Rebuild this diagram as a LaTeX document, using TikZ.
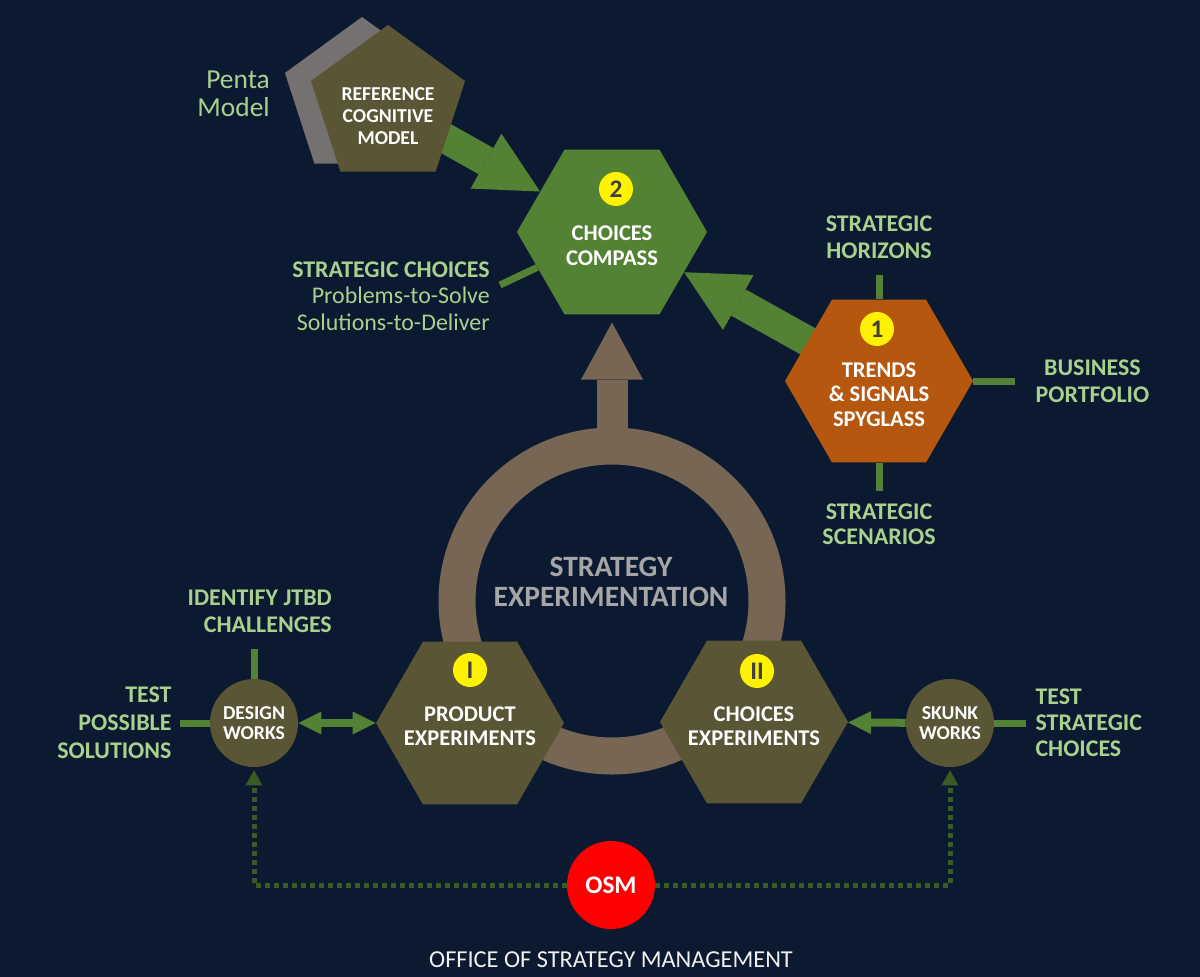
\documentclass[tikz,border=0pt]{standalone}
\usepackage{fontspec}
\setmainfont{Carlito}
\usetikzlibrary{shapes.geometric,arrows.meta,positioning}

\definecolor{bgnavy}{HTML}{0B1A31}
\definecolor{hexgreen}{HTML}{548235}
\definecolor{hexorange}{HTML}{B5570F}
\definecolor{hexolive}{HTML}{5A5535}
\definecolor{pentagray}{HTML}{767171}
\definecolor{ringbrown}{HTML}{786655}
\definecolor{lgreen}{HTML}{A9D18E}
\definecolor{dotgreen}{HTML}{3B5B26}
\definecolor{badgegray}{HTML}{404040}
\definecolor{titlegray}{HTML}{A6A6A6}
\definecolor{osmred}{HTML}{FF0000}

\pgfdeclarelayer{bglayer}
\pgfdeclarelayer{arrowlayer}
\pgfsetlayers{bglayer,arrowlayer,main}

\tikzset{
  hexa/.style={regular polygon, regular polygon sides=6, minimum size=4.7cm, inner sep=0pt},
  penta/.style={regular polygon, regular polygon sides=5, minimum size=4.05cm, inner sep=0pt},
  hextext/.style={text=white, align=center, inner sep=0pt, font=\bfseries\fontsize{16}{17.5}\selectfont},
  pentatext/.style={text=white, align=center, inner sep=0pt, font=\bfseries\fontsize{14}{15.5}\selectfont},
  badge/.style={circle, fill=yellow, minimum size=0.85cm, inner sep=0pt, text=badgegray, font=\bfseries\fontsize{18}{18}\selectfont},
  works/.style={circle, fill=hexolive, minimum size=2.2cm, inner sep=0pt, text=white, align=center, font=\bfseries\fontsize{14}{14.5}\selectfont},
  sidetext/.style={text=lgreen, inner sep=0pt, font=\bfseries\fontsize{17}{19.2}\selectfont},
  tick/.style={draw=hexgreen, line width=0.175cm},
  bigarrow/.style={hexgreen, line width=0.75cm, -{Triangle[length=1.55cm, width=1.575cm, line width=0pt]}},
  stemarrow/.style={ringbrown, line width=0.775cm, shorten >=0.2cm, -{Triangle[length=1.425cm, width=1.55cm, line width=0pt]}},
  medarrow/.style={hexgreen, line width=0.2cm, >={Triangle[length=0.575cm, width=0.575cm, line width=0pt]}},
  dotline/.style={dotgreen, line width=0.125cm, dash pattern=on 0.125cm off 0.1cm, shorten >=0.075cm,
    -{Triangle[length=0.375cm, width=0.425cm, line width=0pt]}}
}

\begin{document}
\begin{tikzpicture}[x=0.025cm, y=-0.025cm]
  \useasboundingbox (0,0) rectangle (1200,977);
  \begin{pgfonlayer}{bglayer}
    \fill[bgnavy] (0,0) rectangle (1200,977);
  \end{pgfonlayer}

  \coordinate (ringmid) at (612,601);
  \coordinate (ringtop) at (612,446);
  \coordinate (choicestip) at (500,285);

  % shapes
  \node[penta, fill=pentagray] (shadow) at (362,98) {};
  \node[penta, fill=hexolive] (penta) at (388,106) {};
  \node[hexa, fill=hexgreen, minimum size=4.75cm] (compass) at (612,232) {};
  \node[hexa, fill=hexorange] (trends) at (879,381) {};
  \node[hexa, fill=hexolive] (product) at (470,723) {};
  \node[hexa, fill=hexolive] (choices) at (754,722) {};
  \node[works] (design) at (254,723) {DESIGN\\WORKS};
  \node[works] (skunk) at (950,723) {SKUNK\\WORKS};
  \node[circle, fill=osmred, minimum size=2.2cm, inner sep=0pt, text=white,
    font=\bfseries\fontsize{18}{18}\selectfont] (osm) at (611,885) {OSM};

  % texts in shapes
  \node[pentatext] (pentatxt) at ([yshift=-0.25cm]penta.center) {REFERENCE\\COGNITIVE\\MODEL};
  \node[hextext] (compasstxt) at ([yshift=-0.34cm]compass.center) {CHOICES\\COMPASS};
  \node[hextext] (trendstxt) at ([yshift=-0.34cm]trends.center) {TRENDS\\\& SIGNALS\\SPYGLASS};
  \node[hextext] (producttxt) at ([yshift=-0.075cm]product.center) {PRODUCT\\EXPERIMENTS};
  \node[hextext] (choicestxt) at ([yshift=-0.1cm]choices.center) {CHOICES\\EXPERIMENTS};

  \node[badge] (b2) at ([yshift=1.075cm, xshift=0.1cm]compass.center) {2};
  \node[badge] (b1) at ([yshift=1.3cm, xshift=-0.05cm]trends.center) {1};
  \node[badge] (bI) at ([yshift=1.325cm]product.center) {I};
  \node[badge] (bII) at ([yshift=1.275cm, xshift=0.075cm]choices.center) {II};

  % labels
  \node[text=lgreen, inner sep=0pt, align=right, anchor=east,
    font=\fontsize{19.5}{20}\selectfont] (pentamodel) at (270,94) {Penta\\Model};
  \node[sidetext, align=right, anchor=east, font=\fontsize{17}{19}\selectfont] (stratchoices) at (490,296)
    {{\bfseries STRATEGIC CHOICES}\\Problems-to-Solve\\Solutions-to-Deliver};
  \node[sidetext, align=center, above=1cm of trends] (horizons) {STRATEGIC\\HORIZONS};
  \node[sidetext, align=center, right=1.55cm of trends] (portfolio) {BUSINESS\\PORTFOLIO};
  \node[sidetext, align=center, below=1.03cm of trends,
    font=\bfseries\fontsize{17}{17.4}\selectfont] (scenarios) {STRATEGIC\\SCENARIOS};
  \node[sidetext, align=right, anchor=east] (jtbd) at (332,611) {IDENTIFY JTBD\\CHALLENGES};
  \node[sidetext, align=right, left=0.95cm of design,
    font=\bfseries\fontsize{17}{20}\selectfont] (testsol) {TEST\\POSSIBLE\\SOLUTIONS};
  \node[sidetext, align=left, right=1.025cm of skunk,
    font=\bfseries\fontsize{17}{18.5}\selectfont] (teststrat) {TEST\\STRATEGIC\\CHOICES};
  \node[text=titlegray, inner sep=0pt, align=center,
    font=\bfseries\fontsize{21}{21.5}\selectfont] (expertitle) at (611,582) {STRATEGY\\EXPERIMENTATION};
  \node[text=white!88!gray, inner sep=0pt, below=0.55cm of osm,
    font=\fontsize{17.3}{18}\selectfont] (osmname) {OFFICE OF STRATEGY MANAGEMENT};

  % ring and big arrows
  \begin{pgfonlayer}{arrowlayer}
    \draw[ringbrown, line width=0.925cm] (ringmid) circle (155);
    \draw[stemarrow] (ringtop) -- (compass);
    \draw[bigarrow] (penta.center) -- (compass);
    \draw[bigarrow] (trends.center) -- (compass);
  \end{pgfonlayer}

  % connectors
  \draw[tick, shorten >=0.4cm] (trends) -- (horizons);
  \draw[tick, shorten >=0.5cm] (trends) -- (portfolio);
  \draw[tick, shorten >=0.33cm] (trends) -- (scenarios);
  \draw[tick] (choicestip) -- (compass);
  \draw[tick, shorten >=0.42cm] (design) -- (design |- jtbd.south);
  \draw[tick, shorten >=0.2cm] (design) -- (testsol);
  \draw[tick, shorten >=0.225cm] (skunk) -- (teststrat);

  \draw[medarrow, <->] (design) -- (product);
  \draw[medarrow, ->] (skunk) -- (choices);

  \draw[dotline] (osm) -| (design);
  \draw[dotline] (osm) -| (skunk);
\end{tikzpicture}
\end{document}
